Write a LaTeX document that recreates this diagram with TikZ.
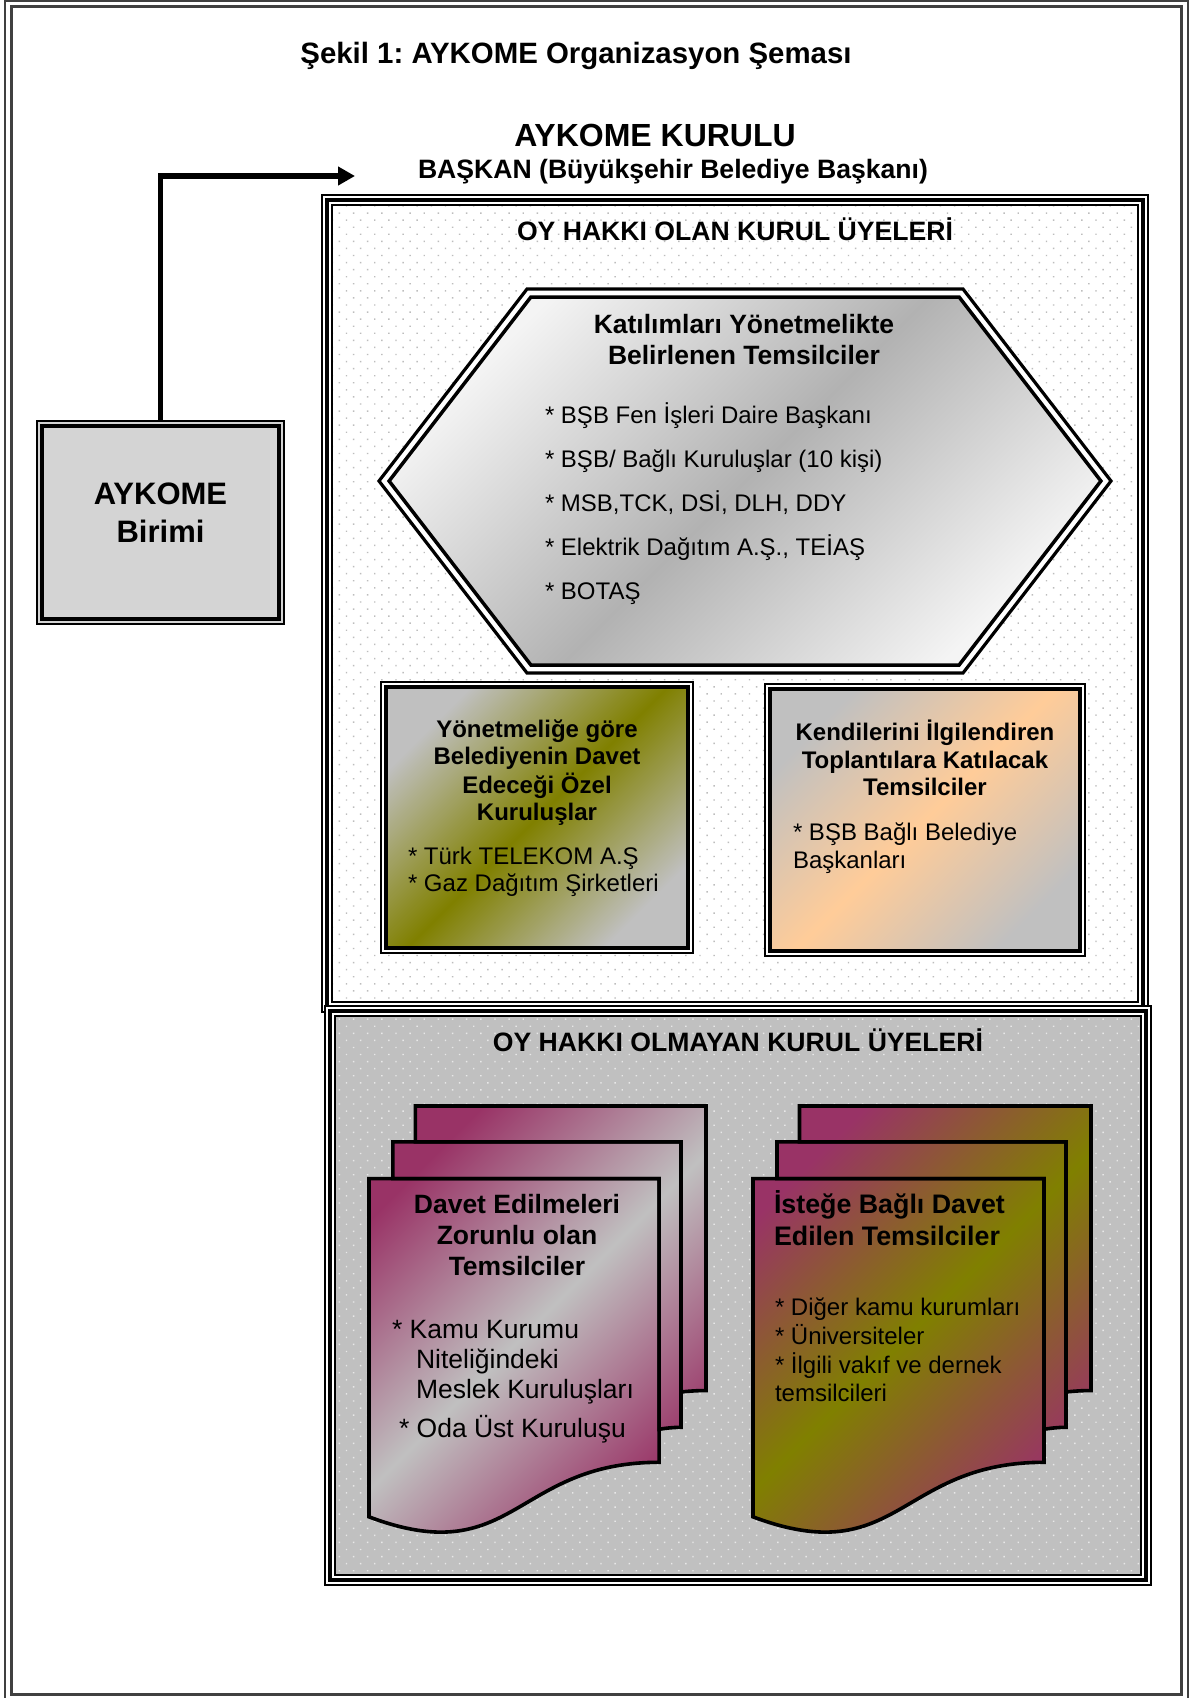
\documentclass[tikz,border=0pt]{standalone}
\usepackage{fontspec}
\setmainfont{Liberation Sans}
\usetikzlibrary{arrows.meta,patterns.meta}
\definecolor{maroonc}{HTML}{993366}
\definecolor{olivec}{HTML}{808000}
\definecolor{peachc}{HTML}{FFCC99}
\definecolor{silverc}{HTML}{C0C0C0}
\definecolor{framegray}{HTML}{404040}
\definecolor{hexlight}{HTML}{F4F4F4}
\definecolor{hexmid}{HTML}{B2B2B2}
\definecolor{birimigray}{HTML}{D4D4D4}
\definecolor{dotgray}{HTML}{BDBDBD}
\definecolor{dotlight}{HTML}{E8E8E8}
\newcommand{\fsz}[2]{\fontsize{#1}{#2}\selectfont}
\newcommand{\tlines}[2]{\begin{tabular}[t]{@{}#1@{}}#2\end{tabular}}
\begin{document}
\frenchspacing
\begin{tikzpicture}[x=1pt,y=-1pt,line join=miter,
  lbl/.style={inner sep=0pt,outer sep=0pt},
  emptybox/.style={inner sep=0pt,outer sep=0pt},
  docline/.style={draw=black,line width=3.6pt},
  frontdoc/.style={insert path={(0,207.82) .. controls (92.98,235.42) and (92.98,180.22) .. (185.95,180.22) -- (185.95,36.75) -- (0,36.75) -- cycle}},
  middoc/.style={insert path={(15.32,36.75) -- (15.32,18.15) -- (200,18.15) -- (200,162.52) .. controls (192.98,162.52) and (185.95,163.52) .. (185.95,163.52) -- (185.95,36.75) -- cycle}},
  backdoc/.style={insert path={(29.72,18.15) -- (29.72,0) -- (216,0) -- (216,143.92) .. controls (207.49,143.92) and (200,144.67) .. (200,144.67) -- (200,18.15) -- cycle}}
]
\useasboundingbox (0,0) rectangle (1200,1698);
\fill[white] (0,0) rectangle (1200,1698);
% page border
\draw[framegray,line width=2pt] (5.3,1) rectangle (1188,1700);
\draw[framegray,line width=3pt] (11.3,6) rectangle (1181.5,1694.5);

% titles
\node[lbl,anchor=base,font=\fsz{29.4}{34}\bfseries] (title) at (576,63) {Şekil 1: AYKOME Organizasyon Şeması};
\node[lbl,anchor=base,font=\fsz{32}{36}\bfseries] (kurul) at (655,146.5) {AYKOME KURULU};
\node[lbl,anchor=base,font=\fsz{26.6}{30}\bfseries] (baskan) at (673,178.6) {BAŞKAN (Büyükşehir Belediye Başkanı)};

% upper box (voting members)
\fill[white] (322,195) rectangle (1148,1012);
\fill[pattern={Dots[distance=10pt,angle=45,radius=1pt]},pattern color=dotgray] (333,206) rectangle (1137,1001);
\draw[line width=1.5pt] (322,195) rectangle (1148,1012);
\draw[line width=3.5pt] (327,200) rectangle (1143,1007);
\draw[line width=1.5pt] (332,205) rectangle (1138,1002);
\node[lbl,anchor=base,font=\fsz{26.6}{30}\bfseries] (oyvar) at (735,240.6) {OY HAKKI OLAN KURUL ÜYELERİ};

% lower box (non-voting members)
\fill[white] (325,1006) rectangle (1151,1585);
\fill[silverc] (336,1017) rectangle (1140,1574);
\fill[pattern={Dots[distance=10pt,angle=45,radius=1pt]},pattern color=dotlight] (336,1017) rectangle (1140,1574);
\draw[line width=1.5pt] (325,1006) rectangle (1151,1585);
\draw[line width=3.5pt] (330,1011) rectangle (1146,1580);
\draw[line width=1.5pt] (335,1016) rectangle (1141,1575);
\node[lbl,anchor=base,font=\fsz{26.6}{30}\bfseries] (oyyok) at (738,1051.6) {OY HAKKI OLMAYAN KURUL ÜYELERİ};

% AYKOME Birimi box and arrow
\node[emptybox,draw=black,line width=2pt,fill=birimigray,minimum width=247pt,minimum height=203pt] (birimi) at (160.5,522.5) {};
\draw[line width=3.5pt] ([shift={(5,5)}]birimi.north west) rectangle ([shift={(-5,-5)}]birimi.south east);
\node[lbl,anchor=base,font=\fsz{31}{38}\bfseries] (birimitext) at (160.5,504) {\tlines{c}{AYKOME\\Birimi}};
\coordinate (arrowend) at (355,176);
\draw[line width=5.5pt,-{Triangle[length=17pt,width=18pt]}] (birimi.north) |- (arrowend);

% hexagon
\path[fill=white,draw=black,line width=3.2pt] (379,481) -- (527,289) -- (963,289) -- (1111,481) -- (963,673) -- (527,673) -- cycle;
\shade[top color=hexlight,bottom color=hexlight,middle color=hexmid,shading angle=45,draw=black,line width=3.5pt]
  (389.1,481) -- (530.9,297) -- (959.1,297) -- (1100.9,481) -- (959.1,665) -- (530.9,665) -- cycle;
\node[lbl,anchor=base,font=\fsz{26.5}{31}\bfseries] (hextitle) at (744,333.5) {\tlines{c}{Katılımları Yönetmelikte\\Belirlenen Temsilciler}};
\node[lbl,anchor=base west,font=\fsz{24}{44}] (hexlist) at (545,423.6) {\tlines{l}{* BŞB Fen İşleri Daire Başkanı\\{}* BŞB/ Bağlı Kuruluşlar (10 kişi)\\{}* MSB,TCK, DSİ, DLH, DDY\\{}* Elektrik Dağıtım A.Ş., TEİAŞ\\{}* BOTAŞ}};

% left middle box
\node[emptybox,draw=black,line width=1.5pt,fill=white,minimum width=312pt,minimum height=271pt] (ozelbox) at (537,817.5) {};
\shade[top color=silverc,bottom color=silverc,middle color=olivec,shading angle=45,draw=black,line width=3.2pt]
  ([shift={(5,5)}]ozelbox.north west) rectangle ([shift={(-5,-5)}]ozelbox.south east);
\node[lbl,anchor=base,font=\fsz{24}{27.3}\bfseries] (ozeltitle) at (537,737.6) {\tlines{c}{Yönetmeliğe göre\\Belediyenin Davet\\Edeceği Özel\\Kuruluşlar}};
\node[lbl,anchor=base west,font=\fsz{24}{27}] (ozellist) at (408,864.6) {\tlines{l}{* Türk TELEKOM A.Ş\\{}* Gaz Dağıtım Şirketleri}};

% right middle box
\node[emptybox,draw=black,line width=1.5pt,fill=white,minimum width=320pt,minimum height=272pt] (ilgibox) at (925,820) {};
\shade[top color=silverc,bottom color=silverc,middle color=peachc,shading angle=45,draw=black,line width=3.2pt]
  ([shift={(5,5)}]ilgibox.north west) rectangle ([shift={(-5,-5)}]ilgibox.south east);
\node[lbl,anchor=base,font=\fsz{24}{27.5}\bfseries] (ilgititle) at (925,740.6) {\tlines{c}{Kendilerini İlgilendiren\\Toplantılara Katılacak\\Temsilciler}};
\node[lbl,anchor=base west,font=\fsz{24}{28}] (ilgilist) at (793,840.6) {\tlines{l}{* BŞB Bağlı Belediye\\Başkanları}};

% left multi-document
\begin{scope}[shift={(369,1106)},x=1.5602pt,y=-1.9769pt]
  \begin{scope}
    \clip[frontdoc,middoc,backdoc];
    \shade[top color=maroonc,bottom color=maroonc,middle color=silverc,shading angle=45] (0,0) rectangle (216,218);
  \end{scope}
  \draw[docline,backdoc];
  \draw[docline,middoc];
  \draw[docline,frontdoc];
\end{scope}
\node[lbl,anchor=base,font=\fsz{26.5}{31}\bfseries] (zorunlutitle) at (517,1213.5) {\tlines{c}{Davet Edilmeleri\\Zorunlu olan\\Temsilciler}};
\node[lbl,anchor=base west,font=\fsz{26.5}{30}] (zorunlulist) at (392,1338.5) {\tlines{l}{* Kamu Kurumu\\\hspace*{24pt}Niteliğindeki\\\hspace*{24pt}Meslek Kuruluşları\\[8pt]\hspace*{7pt}* Oda Üst Kuruluşu}};

% right multi-document
\begin{scope}[shift={(753,1106)},x=1.5648pt,y=-1.9769pt]
  \begin{scope}
    \clip[frontdoc,middoc,backdoc];
    \shade[top color=maroonc,bottom color=maroonc,middle color=olivec,shading angle=45] (0,0) rectangle (216,218);
  \end{scope}
  \draw[docline,backdoc];
  \draw[docline,middoc];
  \draw[docline,frontdoc];
\end{scope}
\node[lbl,anchor=base west,font=\fsz{26.8}{32}\bfseries] (istegetitle) at (774,1213.6) {\tlines{l}{İsteğe Bağlı Davet\\Edilen Temsilciler}};
\node[lbl,anchor=base west,font=\fsz{24}{28}] (istegelist) at (775,1315.6) {\tlines{l}{* Diğer kamu kurumları\\{}* Üniversiteler\\{}* İlgili vakıf ve dernek\\temsilcileri}};
\end{tikzpicture}
\end{document}
